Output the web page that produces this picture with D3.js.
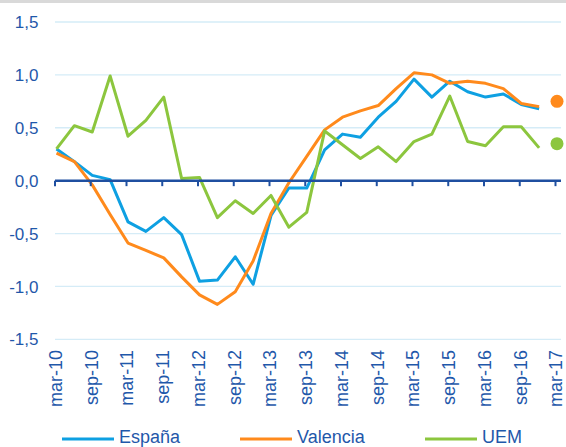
<!DOCTYPE html>
<html lang="es">
<head>
    <meta charset="UTF-8">
    <script src="https://cdn.jsdelivr.net/npm/d3@7"></script>
    <title>España, Valencia, UEM</title>
    <style>
        body { margin: 0; background: #fff; }
        text { font-family: "Liberation Sans", Arial, sans-serif; fill: #1f58aa; }
        .grid line { stroke: #d5ecf7; stroke-width: 1.3; }
        .serie { fill: none; stroke-width: 3; stroke-linejoin: round; }
    </style>
</head>
<body>
    <svg width="566" height="447"></svg>
    <script>
        // trimestres mar-10 .. mar-17
        var quarters = [
            "mar-10", "jun-10", "sep-10", "dic-10",
            "mar-11", "jun-11", "sep-11", "dic-11",
            "mar-12", "jun-12", "sep-12", "dic-12",
            "mar-13", "jun-13", "sep-13", "dic-13",
            "mar-14", "jun-14", "sep-14", "dic-14",
            "mar-15", "jun-15", "sep-15", "dic-15",
            "mar-16", "jun-16", "sep-16", "dic-16",
            "mar-17"
        ];
        var tickLabels = ["mar-10", "sep-10", "mar-11", "sep-11", "mar-12", "sep-12", "mar-13",
                          "sep-13", "mar-14", "sep-14", "mar-15", "sep-15", "mar-16", "sep-16", "mar-17"];
        var yTicks = [-1.5, -1.0, -0.5, 0.0, 0.5, 1.0, 1.5];

        var espana   = [0.30, 0.18, 0.05, 0.01, -0.39, -0.48, -0.35, -0.51, -0.95, -0.94, -0.72, -0.98, -0.33, -0.07,
                        -0.07, 0.29, 0.44, 0.41, 0.60, 0.75, 0.96, 0.79, 0.94, 0.84, 0.79, 0.82, 0.72, 0.68];
        var valencia = [0.26, 0.18, -0.04, -0.32, -0.59, -0.66, -0.73, -0.91, -1.08, -1.17, -1.05, -0.76, -0.31, -0.02,
                        0.23, 0.48, 0.60, 0.66, 0.71, 0.87, 1.02, 1.00, 0.92, 0.94, 0.92, 0.87, 0.73, 0.70];
        var uem      = [0.30, 0.52, 0.46, 0.99, 0.42, 0.57, 0.79, 0.02, 0.03, -0.35, -0.19, -0.31, -0.14, -0.44,
                        -0.30, 0.47, 0.34, 0.21, 0.32, 0.18, 0.37, 0.44, 0.80, 0.37, 0.33, 0.51, 0.51, 0.31];

        // previsión mar-17 (solo punto)
        var forecastQuarter = "mar-17";
        var forecast = [
            { name: "Valencia", value: 0.75 },
            { name: "UEM", value: 0.35 }
        ];

        var colors = { "España": "#0ea0e2", "Valencia": "#ff8a1c", "UEM": "#8cc63e" };

        var series = [
            { name: "España", values: espana },
            { name: "Valencia", values: valencia },
            { name: "UEM", values: uem }
        ];

        var svg = d3.select("svg");

        // franja gris superior
        svg.append("rect")
           .attr("x", 0).attr("y", 0)
           .attr("width", 566).attr("height", 3)
           .attr("fill", "#d9d9d9");

        var x = d3.scalePoint()
                  .domain(quarters)
                  .range([56.5, 557]);

        var y = d3.scaleLinear()
                  .domain([-1.5, 1.5])
                  .range([339.3, 22]);

        // rejilla
        svg.append("g")
           .attr("class", "grid")
           .selectAll("line")
           .data(yTicks.filter(function(d) { return d !== 0; }))
           .enter().append("line")
           .attr("x1", 55).attr("x2", 561)
           .attr("y1", function(d) { return y(d); })
           .attr("y2", function(d) { return y(d); });

        // etiquetas eje y
        svg.append("g")
           .selectAll("text")
           .data(yTicks)
           .enter().append("text")
           .attr("x", 38.5)
           .attr("y", function(d) { return y(d); })
           .attr("dy", "0.36em")
           .style("text-anchor", "end")
           .style("font-size", "17px")
           .text(function(d) { return d3.format(".1f")(d).replace(".", ",").replace("−", "-"); });

        // líneas
        var line = d3.line()
                     .x(function(d, i) { return x(quarters[i]); })
                     .y(function(d) { return y(d); });

        svg.append("g")
           .selectAll("path")
           .data(series)
           .enter().append("path")
           .attr("class", "serie")
           .attr("stroke", function(d) { return colors[d.name]; })
           .attr("d", function(d) { return line(d.values); });

        // eje en cero (dibujado encima)
        var axisColor = "#1f4fa0";
        svg.append("line")
           .attr("x1", 55).attr("x2", 561)
           .attr("y1", y(0)).attr("y2", y(0))
           .attr("stroke", axisColor)
           .attr("stroke-width", 2.5);

        svg.append("g")
           .selectAll("line")
           .data(tickLabels)
           .enter().append("line")
           .attr("x1", function(d) { return x(d) - 1.5; })
           .attr("x2", function(d) { return x(d) - 1.5; })
           .attr("y1", y(0))
           .attr("y2", y(0) + 5.5)
           .attr("stroke", axisColor)
           .attr("stroke-width", 2);

        // etiquetas eje x
        svg.append("g")
           .selectAll("text")
           .data(tickLabels)
           .enter().append("text")
           .attr("transform", function(d) { return "translate(" + (x(d) - 1) + ",350) rotate(-90)"; })
           .attr("dy", "0.36em")
           .style("text-anchor", "end")
           .style("font-size", "18px")
           .text(function(d) { return d; });

        // puntos de previsión
        svg.append("g")
           .selectAll("circle")
           .data(forecast)
           .enter().append("circle")
           .attr("cx", x(forecastQuarter))
           .attr("cy", function(d) { return y(d.value); })
           .attr("r", 6.5)
           .attr("fill", function(d) { return colors[d.name]; });

        // leyenda
        var legendX = [62, 240, 425];
        var legend = svg.append("g")
                        .selectAll("g")
                        .data(series)
                        .enter().append("g")
                        .attr("transform", function(d, i) { return "translate(" + legendX[i] + ",439)"; });

        legend.append("line")
              .attr("x1", 0).attr("x2", 52)
              .attr("stroke", function(d) { return colors[d.name]; })
              .attr("stroke-width", 3);

        legend.append("text")
              .attr("x", 57)
              .attr("y", 4)
              .style("font-size", "18px")
              .text(function(d) { return d.name; });
    </script>
</body>
</html>
